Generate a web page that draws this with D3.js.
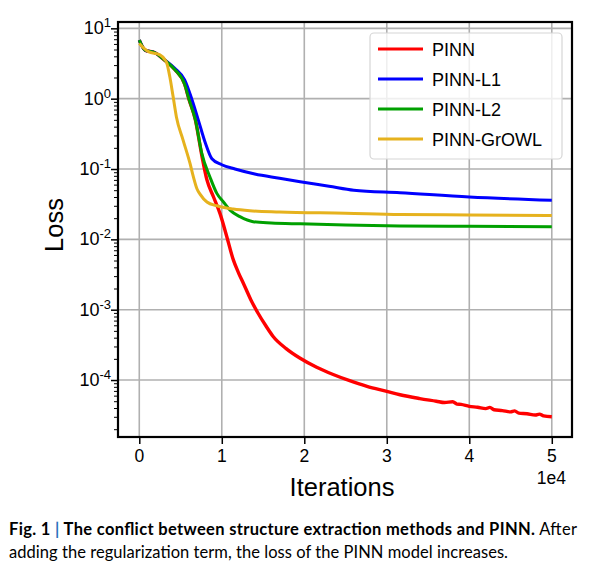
<!DOCTYPE html>
<html>
<head>
<meta charset="utf-8">
<script src="https://cdn.jsdelivr.net/npm/d3@7"></script>
<style>
  body { margin: 0; background: #fff; }
  svg { display: block; }
</style>
</head>
<body>
<svg width="590" height="573"></svg>
<script>
// iterations (in units of 1e4) and loss for each run
const seriesNames = ["PINN", "PINN-L1", "PINN-L2", "PINN-GrOWL"];
const seriesColors = ["#ff0000", "#0000ff", "#00a000", "#e6b21e"];

const pinnX = [0, 0.07, 0.19, 0.31, 0.43, 0.55, 0.6, 0.68, 0.756, 0.82, 0.9, 0.98, 1.06, 1.14, 1.2, 1.26, 1.35, 1.44, 1.53, 1.62, 1.78, 1.95, 2.15, 2.35, 2.55, 2.76, 3.0, 3.16, 3.4, 3.6, 3.7, 3.8, 3.85, 3.9, 4.0, 4.1, 4.2, 4.25, 4.3, 4.4, 4.5, 4.55, 4.6, 4.7, 4.8, 4.85, 4.9, 5.0];
const pinnY = [6.8, 4.9, 4.5, 3.5, 2.6, 1.6, 1.0, 0.5, 0.16, 0.07, 0.04, 0.023, 0.011, 0.0051, 0.0034, 0.0024, 0.0014, 0.00089, 0.00060, 0.00042, 0.00028, 0.000204, 0.000152, 0.00012, 0.000098, 0.0000813, 0.000069, 0.0000617, 0.0000545, 0.0000500, 0.0000478, 0.0000492, 0.0000455, 0.0000450, 0.0000422, 0.0000410, 0.0000392, 0.0000408, 0.0000378, 0.0000368, 0.0000352, 0.0000364, 0.0000338, 0.0000332, 0.0000318, 0.0000328, 0.0000310, 0.0000300];

const l1X = [0, 0.07, 0.19, 0.31, 0.43, 0.55, 0.635, 0.715, 0.8, 0.88, 1.0, 1.16, 1.4, 1.7, 1.95, 2.3, 2.6, 3.16, 4.0, 5.0];
const l1Y = [6.8, 4.9, 4.5, 3.55, 2.7, 1.85, 1.0, 0.5, 0.236, 0.14, 0.115, 0.1, 0.085, 0.074, 0.066, 0.057, 0.050, 0.046, 0.040, 0.036];

const l2X = [0, 0.07, 0.19, 0.31, 0.43, 0.55, 0.6, 0.68, 0.756, 0.86, 0.94, 1.02, 1.1, 1.22, 1.38, 1.6, 1.95, 2.5, 3.16, 4.0, 5.0];
const l2Y = [6.8, 4.9, 4.5, 3.5, 2.6, 1.6, 1.0, 0.5, 0.17, 0.075, 0.045, 0.034, 0.026, 0.021, 0.0178, 0.0171, 0.0166, 0.0160, 0.0155, 0.0153, 0.0151];

const growlX = [0, 0.11, 0.25, 0.31, 0.33, 0.37, 0.41, 0.45, 0.53, 0.615, 0.655, 0.7, 0.736, 0.82, 0.94, 1.14, 1.34, 1.7, 2.5, 3.16, 4.0, 5.0];
const growlY = [6.1, 4.66, 4.2, 3.6, 3.3, 2.05, 1.07, 0.55, 0.26, 0.12, 0.078, 0.052, 0.044, 0.034, 0.030, 0.027, 0.0255, 0.0245, 0.0235, 0.0225, 0.0222, 0.0218];

const xTicks = [0, 1, 2, 3, 4, 5];
const yTicks = [1e-4, 1e-3, 1e-2, 1e-1, 1e0, 1e1];
const yTickExp = ["-4", "-3", "-2", "-1", "0", "1"];

const allX = [pinnX, l1X, l2X, growlX];
const allY = [pinnY, l1Y, l2Y, growlY];

const svg = d3.select("svg");
const plotLeft = 118, plotRight = 572, plotTop = 22, plotBottom = 437;

const x = d3.scaleLinear().domain([-0.258, 5.245]).range([plotLeft, plotRight]);
const y = d3.scaleLog().domain([10 ** -4.81, 10 ** 1.09]).range([plotBottom, plotTop]);

// grid lines
svg.append("g")
    .selectAll("line")
    .data(xTicks)
    .enter()
    .append("line")
    .attr("x1", d => x(d)).attr("x2", d => x(d))
    .attr("y1", plotTop).attr("y2", plotBottom)
    .style("stroke", "#b0b0b0")
    .style("stroke-width", 1.6);
svg.append("g")
    .selectAll("line")
    .data(yTicks)
    .enter()
    .append("line")
    .attr("x1", plotLeft).attr("x2", plotRight)
    .attr("y1", d => y(d)).attr("y2", d => y(d))
    .style("stroke", "#b0b0b0")
    .style("stroke-width", 1.6);

// curves
const line = d3.line()
    .x(d => x(d[0]))
    .y(d => y(d[1]))
    .curve(d3.curveMonotoneX);

// draw in the same order as matplotlib: PINN first, GrOWL last
for (let i = 0; i < 4; i++) {
    const pts = allX[i].map((v, j) => [v, allY[i][j]]);
    svg.append("path")
        .datum(pts)
        .attr("d", line)
        .style("fill", "none")
        .style("stroke", seriesColors[i])
        .style("stroke-width", i === 0 ? 3.4 : 3)
        .style("stroke-linejoin", "round");
}

// axes
const xAxis = d3.axisBottom(x).tickValues(xTicks).tickSize(7).tickFormat("");
svg.append("g")
    .attr("transform", "translate(0," + plotBottom + ")")
    .call(xAxis)
    .call(g => g.select(".domain").remove())
    .selectAll("line").style("stroke", "#000").style("stroke-width", 1.5);

const minorTicks = [];
for (let e = -5; e <= 1; e++) {
    for (let m = 2; m <= 9; m++) {
        const v = m * 10 ** e;
        if (v > y.domain()[0] && v < y.domain()[1]) minorTicks.push(v);
    }
}
svg.append("g")
    .attr("transform", "translate(" + plotLeft + ",0)")
    .call(d3.axisLeft(y).tickValues(minorTicks).tickSize(4).tickFormat(""))
    .call(g => g.select(".domain").remove())
    .selectAll("line").style("stroke", "#000").style("stroke-width", 1);
svg.append("g")
    .attr("transform", "translate(" + plotLeft + ",0)")
    .call(d3.axisLeft(y).tickValues(yTicks).tickSize(7).tickFormat(""))
    .call(g => g.select(".domain").remove())
    .selectAll("line").style("stroke", "#000").style("stroke-width", 1.5);

// frame
svg.append("rect")
    .attr("x", plotLeft).attr("y", plotTop)
    .attr("width", plotRight - plotLeft).attr("height", plotBottom - plotTop)
    .style("fill", "none")
    .style("stroke", "#000")
    .style("stroke-width", 2.2);

// tick labels
const font = "'Liberation Sans', Arial, sans-serif";
svg.append("g")
    .selectAll("text")
    .data(xTicks)
    .enter()
    .append("text")
    .attr("x", d => x(d))
    .attr("y", 462)
    .attr("text-anchor", "middle")
    .style("font-family", font)
    .style("font-size", "17.5px")
    .text(d => d);

const yLab = svg.append("g")
    .selectAll("text")
    .data(yTicks)
    .enter()
    .append("text")
    .attr("x", 111)
    .attr("y", d => y(d) + 6)
    .attr("text-anchor", "end")
    .style("font-family", font)
    .style("font-size", "18px");
yLab.append("tspan").text("10");
yLab.append("tspan")
    .attr("dy", -7)
    .style("font-size", "13px")
    .text((d, i) => yTickExp[i]);

svg.append("text")
    .attr("x", 566).attr("y", 484)
    .attr("text-anchor", "end")
    .style("font-family", font)
    .style("font-size", "17.5px")
    .text("1e4");

// axis titles
svg.append("text")
    .attr("x", 342).attr("y", 496)
    .attr("text-anchor", "middle")
    .style("font-family", font)
    .style("font-size", "25.5px")
    .text("Iterations");
svg.append("text")
    .attr("transform", "translate(63,225) rotate(-90)")
    .attr("text-anchor", "middle")
    .style("font-family", font)
    .style("font-size", "25.5px")
    .text("Loss");

// legend
const legendX = 370, legendY = 33;
svg.append("rect")
    .attr("x", legendX).attr("y", legendY)
    .attr("width", 192).attr("height", 126)
    .attr("rx", 4)
    .style("fill", "#fff")
    .style("fill-opacity", 0.8)
    .style("stroke", "#d6d6d6")
    .style("stroke-width", 1.2);
seriesNames.forEach(function (name, i) {
    const ry = 49 + 30 * i;
    svg.append("line")
        .attr("x1", 378).attr("x2", 423)
        .attr("y1", ry).attr("y2", ry)
        .style("stroke", seriesColors[i])
        .style("stroke-width", 3);
    svg.append("text")
        .attr("x", 432).attr("y", ry + 6.5)
        .style("font-family", font)
        .style("font-size", "18px")
        .text(name);
});

// caption
const capFont = "'Linux Biolinum O', 'Linux Biolinum', Lato, 'Open Sans', sans-serif";
const cap1 = svg.append("text")
    .attr("x", 9).attr("y", 535)
    .attr("textLength", 568)
    .attr("lengthAdjust", "spacing")
    .style("font-family", capFont)
    .style("font-size", "16.5px");
cap1.append("tspan").style("font-weight", "bold").text("Fig. 1 ");
cap1.append("tspan").style("font-weight", "bold").style("fill", "#2a6ebb").text("|");
cap1.append("tspan").style("font-weight", "bold").text(" The conflict between structure extraction methods and PINN.");
cap1.append("tspan").text(" After");
svg.append("text")
    .attr("x", 9).attr("y", 558)
    .attr("textLength", 499)
    .attr("lengthAdjust", "spacing")
    .style("font-family", capFont)
    .style("font-size", "16.5px")
    .text("adding the regularization term, the loss of the PINN model increases.");
</script>
</body>
</html>
